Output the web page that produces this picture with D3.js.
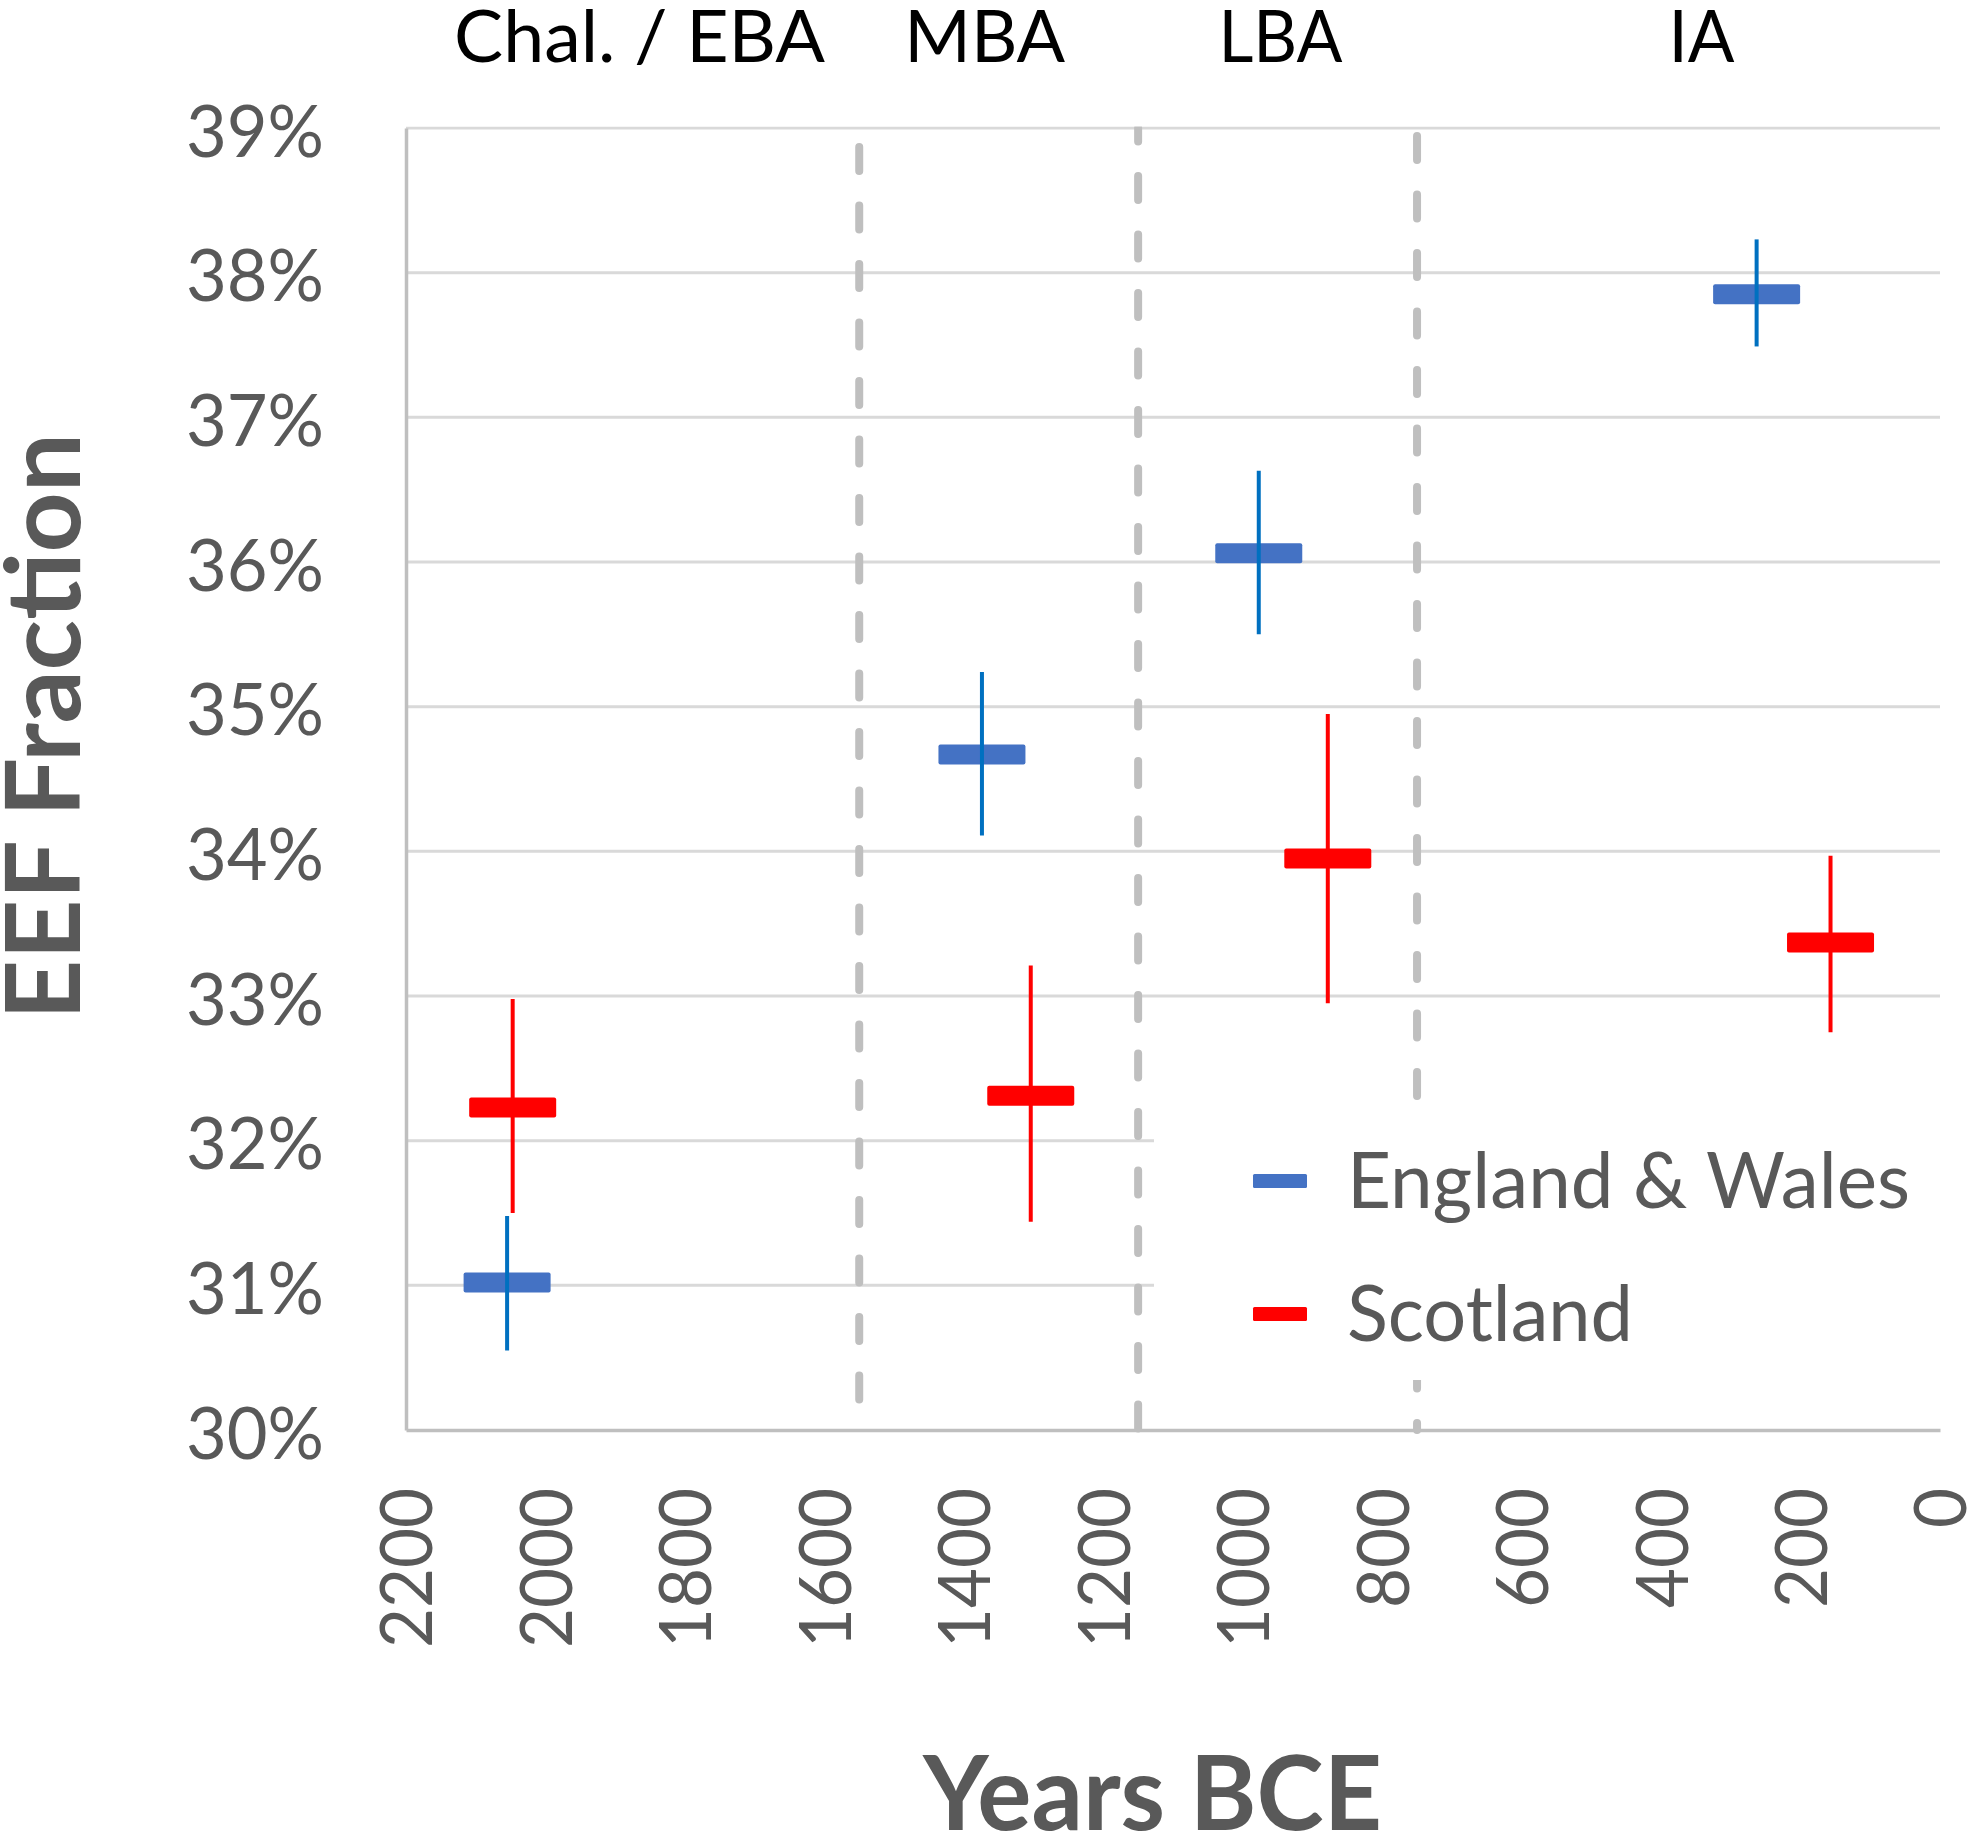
<!DOCTYPE html>
<html><head><meta charset="utf-8">
<script src="https://cdn.jsdelivr.net/npm/d3@7"></script>
<style>body{margin:0;background:#fff}</style>
</head><body><svg id="c" width="1971" height="1834"></svg>
<script>
// ---- data ----
const periods = ["Chal. / EBA", "MBA", "LBA", "IA"];
const periodCenters = [1865, 1370, 946, 342];      // years BCE where the period label sits
const periodBoundaries = [1550, 1150, 750];        // years BCE
const seriesNames = ["England & Wales", "Scotland"];
const ewYear = [2055, 1374, 977, 263];
const ewMean = [31.02, 34.67, 36.06, 37.85];
const ewLow  = [30.55, 34.11, 35.50, 37.49];
const ewHigh = [31.48, 35.24, 36.63, 38.23];
const scYear = [2047, 1304, 878, 157];
const scMean = [32.23, 32.31, 33.95, 33.37];
const scLow  = [31.50, 31.44, 32.95, 32.75];
const scHigh = [32.98, 33.21, 34.95, 33.97];
const xTicks = [2200, 2000, 1800, 1600, 1400, 1200, 1000, 800, 600, 400, 200, 0];
const yTicks = [30, 31, 32, 33, 34, 35, 36, 37, 38, 39];

// ---- layout / style ----
const FONT = "Lato, 'Open Sans', sans-serif";
const GRAY = "#595959";
const svg = d3.select("#c");
svg.append("rect").attr("width", 1971).attr("height", 1834).attr("fill", "#fff");

const x = d3.scaleLinear().domain([2200, 0]).range([406, 1940]);
const y = d3.scaleLinear().domain([30, 39]).range([1430, 128]);

const series = [
  {name: seriesNames[0], year: ewYear, mean: ewMean, low: ewLow, high: ewHigh, bar: "#4472C4", whisk: "#0070C0"},
  {name: seriesNames[1], year: scYear, mean: scMean, low: scLow, high: scHigh, bar: "#FF0000", whisk: "#FF0000"}
];

// gridlines
svg.append("g").selectAll("line").data(yTicks.filter(d => d > 30)).join("line")
  .attr("x1", x(2200)).attr("x2", x(0))
  .attr("y1", d => y(d)).attr("y2", d => y(d))
  .attr("stroke", "#d9d9d9").attr("stroke-width", 3);

// period boundary dashed lines
const dashOffsets = [39.5, 10.5, 50.5];
svg.append("g").selectAll("line").data(periodBoundaries).join("line")
  .attr("x1", d => x(d)).attr("x2", d => x(d))
  .attr("y1", y(39)).attr("y2", y(30))
  .attr("stroke", "#bfbfbf").attr("stroke-width", 8)
  .attr("stroke-linecap", "round")
  .attr("stroke-dasharray", "24 34.5")
  .attr("stroke-dashoffset", (d, i) => dashOffsets[i]);

// cover the dashed lines at the top above the plot
svg.append("rect").attr("x", 300).attr("y", 0).attr("width", 1671).attr("height", y(39) - 1.5).attr("fill", "#fff");

// axes
const yAxis = d3.axisLeft(y).tickValues(yTicks).tickSize(0).tickPadding(82).tickFormat(d => d + "%");
const gy = svg.append("g").attr("transform", `translate(${x(2200)},0)`).call(yAxis);
gy.select(".domain").attr("stroke", "#bfbfbf").attr("stroke-width", 3.5);
gy.selectAll("text")
  .attr("font-family", FONT).attr("font-size", 72).attr("fill", GRAY)
  .attr("dy", "0.39em")
  .attr("textLength", 138).attr("lengthAdjust", "spacingAndGlyphs");

const xAxis = d3.axisBottom(x).tickValues(xTicks).tickSize(0).tickFormat(d => d);
const gx = svg.append("g").attr("transform", `translate(0,${y(30)})`).call(xAxis);
gx.select(".domain").attr("stroke", "#bfbfbf").attr("stroke-width", 3.5);
gx.selectAll("text")
  .attr("font-family", FONT).attr("font-size", 72).attr("fill", GRAY)
  .attr("transform", "rotate(-90)")
  .attr("text-anchor", "end")
  .attr("x", -58).attr("y", 0).attr("dy", "0.36em")
  .attr("textLength", d => String(d).length * 40).attr("lengthAdjust", "spacingAndGlyphs");

// legend background (hides grid & dashed line behind it)
svg.append("rect").attr("x", 1154).attr("y", 1110).attr("width", 800).attr("height", 270).attr("fill", "#fff");

// data marks
const BAR_W = 87, BAR_H = 20;
series.forEach(s => {
  const g = svg.append("g");
  const idx = d3.range(s.year.length);
  g.selectAll("rect").data(idx).join("rect")
    .attr("x", i => x(s.year[i]) - BAR_W / 2)
    .attr("y", i => y(s.mean[i]) - BAR_H / 2)
    .attr("width", BAR_W).attr("height", BAR_H)
    .attr("rx", 2).attr("fill", s.bar);
  g.selectAll("line").data(idx).join("line")
    .attr("x1", i => x(s.year[i])).attr("x2", i => x(s.year[i]))
    .attr("y1", i => y(s.high[i])).attr("y2", i => y(s.low[i]))
    .attr("stroke", s.whisk).attr("stroke-width", 4);
});

// period labels
svg.append("g").selectAll("text").data(periods).join("text")
  .attr("x", (d, i) => x(periodCenters[i])).attr("y", 62)
  .attr("text-anchor", "middle")
  .attr("font-family", FONT).attr("font-size", 72).attr("fill", "#000")
  .attr("textLength", (d, i) => [371, 161, 124, 66][i]).attr("lengthAdjust", "spacingAndGlyphs")
  .text(d => d);

// legend
const legY = [1181, 1314];
const legW = [563, 286];
const lg = svg.append("g");
series.forEach((s, i) => {
  lg.append("rect").attr("x", 1253).attr("y", legY[i] - 7).attr("width", 54).attr("height", 14)
    .attr("rx", 1.5).attr("fill", s.bar);
  lg.append("text").attr("x", 1347).attr("y", legY[i] + 27)
    .attr("font-family", FONT).attr("font-size", 77).attr("fill", GRAY)
    .attr("textLength", legW[i]).attr("lengthAdjust", "spacingAndGlyphs")
    .text(s.name);
});

// axis titles
svg.append("text").attr("x", 1152.5).attr("y", 1830).attr("text-anchor", "middle")
  .attr("font-family", FONT).attr("font-weight", "bold").attr("font-size", 103).attr("fill", GRAY)
  .attr("textLength", 459).attr("lengthAdjust", "spacingAndGlyphs")
  .text("Years BCE");
svg.append("text").attr("transform", "translate(80,726.5) rotate(-90)").attr("text-anchor", "middle")
  .attr("font-family", FONT).attr("font-weight", "bold").attr("font-size", 103).attr("fill", GRAY)
  .attr("textLength", 587).attr("lengthAdjust", "spacingAndGlyphs")
  .text("EEF Fraction");
</script></body></html>
